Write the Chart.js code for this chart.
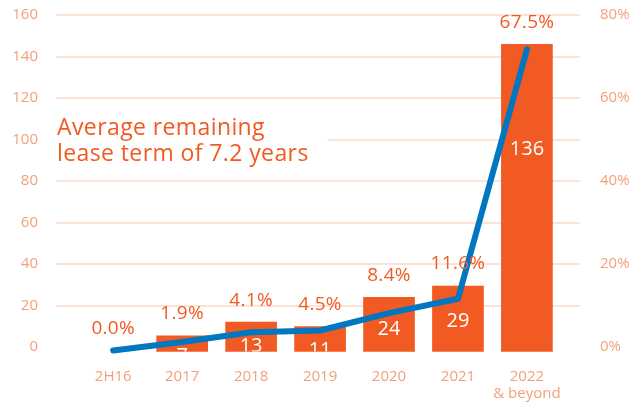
<!DOCTYPE html>
<html>
<head>
<meta charset="utf-8">
<script src="https://cdn.jsdelivr.net/npm/chart.js@4.4.1/dist/chart.umd.min.js"></script>
<style>
  html, body { margin: 0; padding: 0; background: #fff; }
  #wrap { width: 639px; height: 404px; }
</style>
</head>
<body>
<div id="wrap"><canvas id="leaseChart"></canvas></div>
<script>
// ================= DATA =================
const categories = ["2H16", "2017", "2018", "2019", "2020", "2021", ["2022", "& beyond"]];
const expiringArea = [0, 7, 13, 11, 24, 29, 136];
const expiryShare = [0.0, 1.9, 4.1, 4.5, 8.4, 11.6, 67.5];
const leftTicks = [0, 20, 40, 60, 80, 100, 120, 140, 160];
const rightTicks = [0, 20, 40, 60, 80];
const noteLines = ["Average remaining", "lease term of 7.2 years"];

// ================= STYLE =================
const ORANGE = "#f15a22";
const BLUE = "#0077c0";
const TICK = "#f4a079";
const GRID = "#fde3d6";
const FONT = "'Open Sans', 'DejaVu Sans', sans-serif";

// ================= LABEL PLUGIN =================
const labelPlugin = {
  id: "labels",
  beforeDatasetsDraw(chart) {
    const { ctx, chartArea } = chart;
    ctx.save();
    ctx.font = "23px " + FONT;
    ctx.letterSpacing = "0.4px";
    const w = Math.max(...noteLines.map(t => ctx.measureText(t).width));
    ctx.fillStyle = "#fff";
    ctx.fillRect(chartArea.left, chartArea.top + 97, w + 20, 60);
    ctx.fillStyle = ORANGE;
    ctx.textAlign = "left";
    ctx.textBaseline = "middle";
    noteLines.forEach((t, i) => ctx.fillText(t, chartArea.left + 1, chartArea.top + 113 + i * 26));
    ctx.restore();
  },
  afterDatasetDraw(chart, args) {
    if (args.index !== 0) return;
    const { ctx } = chart;
    const bars = chart.getDatasetMeta(0).data;
    ctx.save();
    ctx.font = "20px " + FONT;
    ctx.fillStyle = "#fff";
    ctx.textAlign = "center";
    ctx.textBaseline = "middle";
    bars.forEach((bar, i) => {
      if (!expiringArea[i]) return;
      const h = bar.base - bar.y;
      ctx.save();
      ctx.beginPath();
      ctx.rect(bar.x - bar.width / 2, bar.y, bar.width, h);
      ctx.clip();
      ctx.fillText(String(expiringArea[i]), bar.x, bar.y + 0.29 * h + 16);
      ctx.restore();
    });
    ctx.restore();
  },
  afterDatasetsDraw(chart) {
    const { ctx } = chart;
    const bars = chart.getDatasetMeta(0).data;
    const pts = chart.getDatasetMeta(1).data;
    ctx.save();
    ctx.font = "19px " + FONT;
    ctx.letterSpacing = "0.3px";
    ctx.fillStyle = ORANGE;
    ctx.textAlign = "center";
    ctx.textBaseline = "middle";
    pts.forEach((p, i) => {
      const top = Math.min(bars[i].y, p.y);
      ctx.fillText(expiryShare[i].toFixed(1) + "%", bars[i].x, top - 22);
    });
    ctx.restore();
  }
};

const fitY = w => s => { s.width = w; s.paddingTop = 0; s.paddingBottom = 0; };

// ================= CHART =================
new Chart(document.getElementById("leaseChart"), {
  type: "bar",
  data: {
    datasets: [
      {
        type: "bar",
        data: expiringArea.map((v, i) => ({ x: i, y: v })),
        backgroundColor: expiringArea.map(v => (v ? ORANGE : "rgba(0,0,0,0)")),
        barThickness: 51,
        base: 0,
        clip: false,
        xAxisID: "x",
        yAxisID: "yBar",
        order: 2
      },
      {
        type: "line",
        data: expiryShare.map((v, i) => ({ x: i, y: v })),
        borderColor: BLUE,
        borderWidth: 6,
        borderCapStyle: "round",
        borderJoinStyle: "round",
        pointRadius: 0,
        tension: 0,
        clip: false,
        xAxisID: "x",
        yAxisID: "yLine",
        order: 1
      }
    ]
  },
  options: {
    responsive: true,
    maintainAspectRatio: false,
    animation: false,
    devicePixelRatio: 1,
    layout: { padding: { top: 15, left: 0, right: 0, bottom: 0 } },
    plugins: { legend: { display: false }, tooltip: { enabled: false } },
    scales: {
      x: {
        type: "linear",
        offset: false,
        min: -0.83,
        max: 6.77,
        afterBuildTicks: s => { s.ticks = categories.map((c, i) => ({ value: i })); },
        afterFit: s => { s.height = 57; s.paddingLeft = 0; s.paddingRight = 0; },
        grid: { display: false },
        border: { display: false },
        ticks: {
          color: TICK,
          font: { family: FONT, size: 15, lineHeight: 1.15 },
          padding: 13,
          maxRotation: 0,
          autoSkip: false,
          callback: v => categories[v]
        }
      },
      y: {
        position: "left",
        min: 0,
        max: 160,
        afterBuildTicks: s => { s.ticks = leftTicks.map(v => ({ value: v })); },
        afterFit: fitY(56),
        grid: {
          color: c => (c.tick && c.tick.value === 0 ? "rgba(0,0,0,0)" : GRID),
          lineWidth: 2,
          drawTicks: false
        },
        border: { display: false },
        ticks: { color: TICK, font: { family: FONT, size: 15 }, padding: 18 }
      },
      y1: {
        position: "right",
        min: 0,
        max: 80,
        afterBuildTicks: s => { s.ticks = rightTicks.map(v => ({ value: v })); },
        afterFit: fitY(59),
        grid: { display: false, drawTicks: false },
        border: { display: false },
        ticks: { color: TICK, font: { family: FONT, size: 15 }, padding: 20, callback: v => v + "%" }
      },
      yBar: { display: false, min: 2, max: 149 },
      yLine: { display: false, min: 0.8, max: 75.2 }
    }
  },
  plugins: [labelPlugin]
});
</script>
</body>
</html>
